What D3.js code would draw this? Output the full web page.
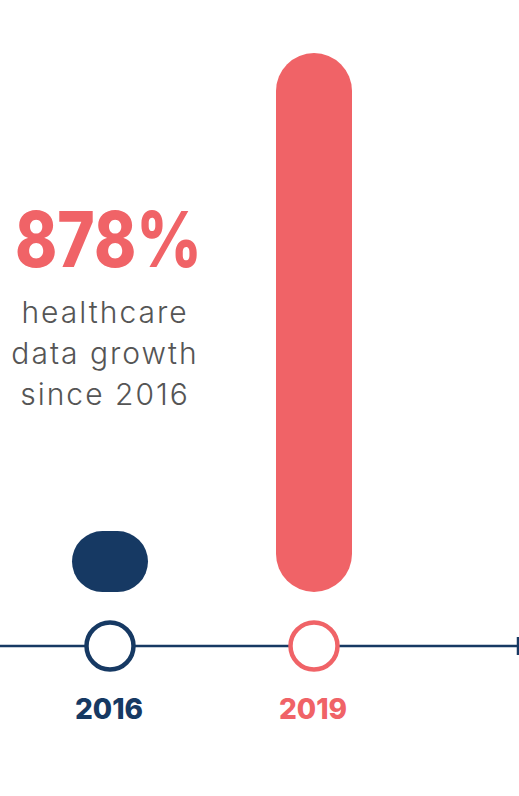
<!DOCTYPE html>
<html>
<head>
<meta charset="utf-8">
<script src="https://cdn.jsdelivr.net/npm/d3@7"></script>
<style>
  html, body { margin: 0; padding: 0; background: #fff; }
  svg { display: block; }
</style>
</head>
<body>
<svg id="chart"></svg>
<script>
// years on the timeline and the bar value for each (relative index, 2019 = 100)
const years = ["2016", "2019"];
const values = [11.3, 100];
const colors = ["#163963", "#f06367"];

const headline = "878%";
const captionLines = ["healthcare", "data growth", "since 2016"];

const fullWidth = 519;
const fullHeight = 796;
const baseY = 592;      // bottom of the bars
const topY = 53;        // top of the tallest bar
const lineY = 646;      // timeline

const svg = d3.select('#chart')
  .attr('width', fullWidth)
  .attr('height', fullHeight);

const x = d3.scalePoint().domain(years).range([110, 314]);
const y = d3.scaleLinear().domain([0, d3.max(values)]).range([baseY, topY]);

const barW = 76;

svg.selectAll('.bar')
  .data(years)
  .enter().append('rect')
    .attr('class', 'bar')
    .attr('x', d => x(d) - barW / 2)
    .attr('y', (d, i) => y(values[i]))
    .attr('width', barW)
    .attr('height', (d, i) => baseY - y(values[i]))
    .attr('rx', (d, i) => Math.min(barW / 2, (baseY - y(values[i])) / 2))
    .attr('ry', (d, i) => Math.min(barW / 2, (baseY - y(values[i])) / 2))
    .attr('fill', (d, i) => colors[i]);

// timeline
svg.append('line')
  .attr('x1', 0).attr('x2', 518)
  .attr('y1', lineY).attr('y2', lineY)
  .attr('stroke', '#163963')
  .attr('stroke-width', 2.5);

svg.append('line')
  .attr('x1', 518).attr('x2', 518)
  .attr('y1', lineY - 9).attr('y2', lineY + 9)
  .attr('stroke', '#163963')
  .attr('stroke-width', 2.5);

svg.selectAll('.dot')
  .data(years)
  .enter().append('circle')
    .attr('class', 'dot')
    .attr('cx', d => x(d))
    .attr('cy', lineY)
    .attr('r', 23.5)
    .attr('fill', '#fff')
    .attr('stroke', (d, i) => colors[i])
    .attr('stroke-width', 4.5);

svg.selectAll('.year')
  .data(years)
  .enter().append('text')
    .attr('class', 'year')
    .attr('x', d => x(d) - 1)
    .attr('y', 719)
    .attr('text-anchor', 'middle')
    .attr('fill', (d, i) => colors[i])
    .style('font-family', 'Inter, sans-serif')
    .style('font-weight', 800)
    .style('font-size', '28px')
    .text(d => d);

// headline number
svg.append('text')
  .attr('x', 15)
  .attr('y', 267)
  .attr('textLength', 187)
  .attr('lengthAdjust', 'spacingAndGlyphs')
  .attr('fill', '#f06367')
  .style('font-family', 'Inter, sans-serif')
  .style('font-weight', 800)
  .style('font-size', '77px')
  .text(headline);

svg.selectAll('.caption')
  .data(captionLines)
  .enter().append('text')
    .attr('class', 'caption')
    .attr('x', 105)
    .attr('y', (d, i) => 323 + i * 41)
    .attr('text-anchor', 'middle')
    .attr('fill', '#555555')
    .style('font-family', 'Inter, sans-serif')
    .style('font-weight', 300)
    .style('font-size', '30px')
    .style('letter-spacing', '2px')
    .text(d => d);
</script>
</body>
</html>
